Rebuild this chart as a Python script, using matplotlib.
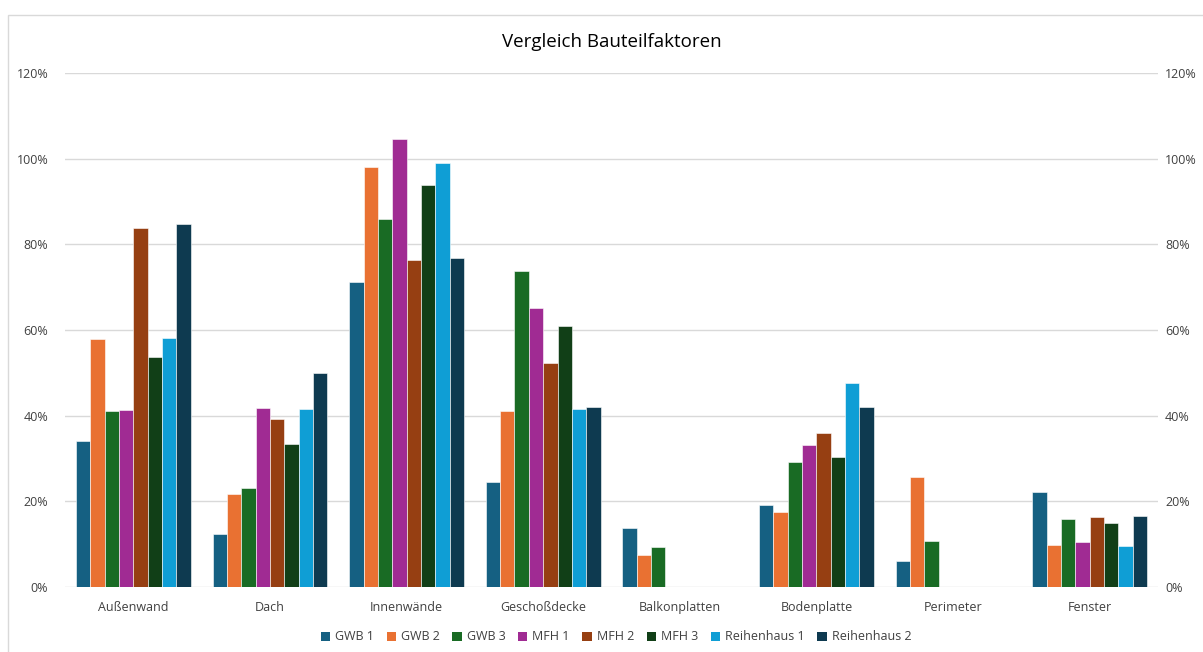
import numpy as np
import matplotlib
matplotlib.use("Agg")
import matplotlib.pyplot as plt
from matplotlib.patches import Rectangle, Patch
from matplotlib.ticker import PercentFormatter

plt.rcParams['font.family'] = ['Open Sans', 'DejaVu Sans']

categories = ["Außenwand", "Dach", "Innenwände", "Geschoßdecke", "Balkonplatten",
              "Bodenplatte", "Perimeter", "Fenster"]
series_names = ["GWB 1", "GWB 2", "GWB 3", "MFH 1", "MFH 2", "MFH 3",
                "Reihenhaus 1", "Reihenhaus 2"]
nan = np.nan
gwb1 = [34.0, 12.3, 71.2, 24.4, 13.8, 19.1, 6.0, 22.1]
gwb2 = [57.8, 21.6, 98.1, 41.0, 7.4, 17.4, 25.6, 9.9]
gwb3 = [41.0, 23.0, 85.8, 73.8, 9.3, 29.1, 10.7, 15.8]
mfh1 = [41.3, 41.8, 104.6, 65.1, nan, 33.1, nan, 10.5]
mfh2 = [83.9, 39.3, 76.3, 52.2, nan, 35.9, nan, 16.3]
mfh3 = [53.6, 33.4, 93.9, 60.9, nan, 30.3, nan, 14.9]
rh1 = [58.1, 41.5, 99.0, 41.6, nan, 47.7, nan, 9.6]
rh2 = [84.7, 49.9, 76.8, 42.1, nan, 42.0, nan, 16.5]
series_values = [gwb1, gwb2, gwb3, mfh1, mfh2, mfh3, rh1, rh2]
colors = ["#156082", "#E97132", "#196B24", "#A02B93", "#963F12", "#113F17",
          "#0F9ED5", "#0E3A50"]

W, H = 1203, 652
fig = plt.figure(figsize=(W / 100, H / 100), dpi=100)
fig.patches.append(Rectangle((8 / W, -0.1), 1.2, 1 - 15 / H + 0.1,
                             transform=fig.transFigure, fill=False,
                             edgecolor="#D9D9D9", lw=1.0))

ax = fig.add_axes([65 / W, 1 - 587 / H, (1158 - 65) / W, (587 - 73) / H])
x = np.arange(len(categories))
n = len(series_values)
group = 0.84
bw = group / n
for i, (vals, c, name) in enumerate(zip(series_values, colors, series_names)):
    pos = x - group / 2 + bw * (i + 0.5)
    ax.bar(pos, np.array(vals) / 100, width=bw, color=c, edgecolor="white",
           linewidth=0.4, label=name, zorder=3)

ax.set_xlim(-0.5, len(categories) - 0.5)
ax.set_ylim(0, 1.2)
ax.set_yticks(np.arange(0, 1.21, 0.2))
ax.yaxis.set_major_formatter(PercentFormatter(1.0, decimals=0))
ax.grid(axis='y', color="#D9D9D9", lw=1.0, zorder=0)
for s in ax.spines.values():
    s.set_visible(False)
ax.tick_params(axis='both', length=0, colors="#404040", labelsize=9)
ax.tick_params(axis='y', pad=12)
ax.tick_params(axis='x', pad=10)
ax.set_xticks(x)
ax.set_xticklabels(categories)

ax2 = ax.twinx()
ax2.set_ylim(0, 1.2)
ax2.set_yticks(np.arange(0, 1.21, 0.2))
ax2.yaxis.set_major_formatter(PercentFormatter(1.0, decimals=0))
for s in ax2.spines.values():
    s.set_visible(False)
ax2.tick_params(axis='y', length=0, colors="#404040", labelsize=9, pad=5)

fig.text(612 / W, 1 - 42 / H, "Vergleich Bauteilfaktoren", ha='center',
         va='center', fontsize=13.5, color="#000000")

handles = [Patch(facecolor=c, edgecolor='none') for c in colors]
fig.legend(handles, series_names, loc='center', bbox_to_anchor=(616 / W, 1 - 637 / H),
           ncol=8, frameon=False, fontsize=9, handlelength=0.75, handleheight=0.75,
           handletextpad=0.4, columnspacing=1.0, labelcolor="#404040")

fig.savefig("out.png", dpi=100)
